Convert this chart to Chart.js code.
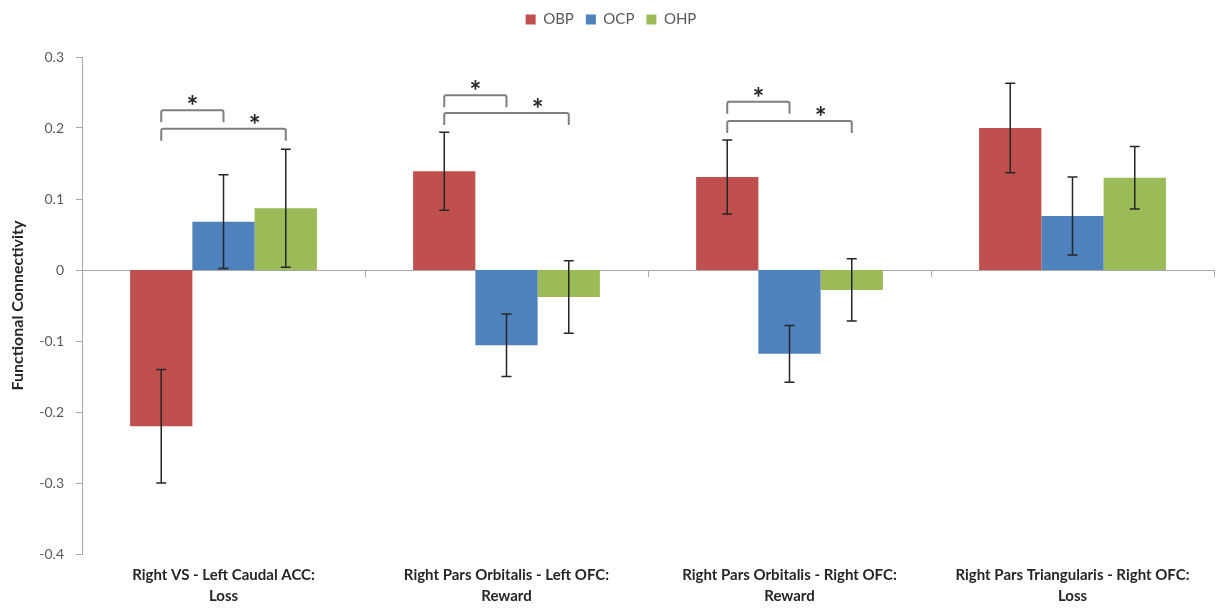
<!DOCTYPE html>
<html>
<head>
<meta charset="utf-8">
<script src="https://cdn.jsdelivr.net/npm/chart.js@4/dist/chart.umd.min.js"></script>
<style>
  html, body { margin: 0; padding: 0; background: #ffffff; }
  #wrap { width: 1223px; height: 616px; position: relative; }
</style>
</head>
<body>
<div id="wrap"><canvas id="c" width="1223" height="616"></canvas></div>
<script>
// ---- data ----
const categories = [
  ['Right VS - Left Caudal ACC:', 'Loss'],
  ['Right Pars Orbitalis - Left OFC:', 'Reward'],
  ['Right Pars Orbitalis - Right OFC:', 'Reward'],
  ['Right Pars Triangularis - Right OFC:', 'Loss']
];
const seriesNames = ['OBP', 'OCP', 'OHP'];
const obpValues = [-0.220, 0.139, 0.131, 0.200];
const ocpValues = [0.068, -0.106, -0.118, 0.076];
const ohpValues = [0.087, -0.038, -0.028, 0.130];
const obpErrors = [0.080, 0.055, 0.052, 0.063];
const ocpErrors = [0.066, 0.044, 0.040, 0.055];
const ohpErrors = [0.083, 0.051, 0.044, 0.044];
const yTickLabels = ['-0.4', '-0.3', '-0.2', '-0.1', '0', '0.1', '0.2', '0.3'];
// significance brackets
const bracketCategory = [0, 0, 1, 1, 2, 2];
const bracketFromSeries = [0, 0, 0, 0, 0, 0];
const bracketToSeries = [1, 2, 1, 2, 1, 2];
const bracketTopValue = [0.225, 0.199, 0.246, 0.221, 0.237, 0.210];
const starBetweenA = [0, 1, 0, 1, 0, 1];
const starBetweenB = [1, 2, 1, 2, 1, 2];
const bracketLabels = ['*', '*', '*', '*', '*', '*'];

const colors = ['#C0504D', '#4F81BD', '#9BBB59'];
const FONT = 'Lato, "Open Sans", sans-serif';
const errorSets = [obpErrors, ocpErrors, ohpErrors];

const errorBarPlugin = {
  id: 'errorBars',
  afterDatasetsDraw(chart) {
    const ctx = chart.ctx;
    const ys = chart.scales.y;
    ctx.save();
    ctx.strokeStyle = '#262626';
    ctx.lineWidth = 1.5;
    chart.data.datasets.forEach((ds, i) => {
      const meta = chart.getDatasetMeta(i);
      meta.data.forEach((bar, j) => {
        const v = ds.data[j];
        const e = errorSets[i][j];
        const x = bar.x;
        const yTop = ys.getPixelForValue(v + e);
        const yBot = ys.getPixelForValue(v - e);
        ctx.beginPath();
        ctx.moveTo(x, yTop); ctx.lineTo(x, yBot);
        ctx.moveTo(x - 5, yTop); ctx.lineTo(x + 5, yTop);
        ctx.moveTo(x - 5, yBot); ctx.lineTo(x + 5, yBot);
        ctx.stroke();
      });
    });
    ctx.restore();
  }
};

const bracketPlugin = {
  id: 'brackets',
  afterDatasetsDraw(chart) {
    const ctx = chart.ctx;
    const ys = chart.scales.y;
    ctx.save();
    ctx.strokeStyle = '#7F7F7F';
    ctx.lineWidth = 2;
    ctx.lineJoin = 'round';
    bracketCategory.forEach((cat, k) => {
      const x1 = chart.getDatasetMeta(bracketFromSeries[k]).data[cat].x;
      const x2 = chart.getDatasetMeta(bracketToSeries[k]).data[cat].x;
      const yT = ys.getPixelForValue(bracketTopValue[k]);
      const yL = yT + 12;
      ctx.beginPath();
      ctx.moveTo(x1, yL); ctx.lineTo(x1, yT + 2);
      ctx.quadraticCurveTo(x1, yT, x1 + 2, yT);
      ctx.lineTo(x2 - 2, yT);
      ctx.quadraticCurveTo(x2, yT, x2, yT + 2);
      ctx.lineTo(x2, yL);
      ctx.stroke();
      const sa = chart.getDatasetMeta(starBetweenA[k]).data[cat].x;
      const sb = chart.getDatasetMeta(starBetweenB[k]).data[cat].x;
      ctx.fillStyle = '#262626';
      ctx.font = 'bold 28px ' + FONT;
      ctx.textAlign = 'center';
      ctx.textBaseline = 'alphabetic';
      ctx.fillText(bracketLabels[k], (sa + sb) / 2, yT + 6);
    });
    ctx.restore();
  }
};

const legendSpace = {
  id: 'legendSpace',
  beforeInit(chart) {
    const orig = chart.legend.fit;
    chart.legend.fit = function () {
      orig.bind(chart.legend)();
      this.height += 20;
    };
  }
};

new Chart(document.getElementById('c'), {
  type: 'bar',
  data: {
    labels: categories,
    datasets: [
      { label: seriesNames[0], data: obpValues, backgroundColor: colors[0] },
      { label: seriesNames[1], data: ocpValues, backgroundColor: colors[1] },
      { label: seriesNames[2], data: ohpValues, backgroundColor: colors[2] }
    ]
  },
  options: {
    responsive: false,
    animation: false,
    devicePixelRatio: 1,
    layout: { padding: { left: 8, right: 9, top: 0, bottom: 8 } },
    datasets: { bar: { categoryPercentage: 0.66, barPercentage: 1.0, borderWidth: 0 } },
    plugins: {
      legend: {
        position: 'top',
        labels: {
          boxWidth: 10, boxHeight: 10, padding: 12,
          color: '#595959',
          font: { size: 15, family: FONT }
        }
      },
      tooltip: { enabled: false }
    },
    scales: {
      x: {
        grid: { display: false, drawTicks: false },
        border: { display: false },
        ticks: {
          color: '#262626',
          font: { size: 15, weight: 'bold', family: FONT, lineHeight: 1.4 },
          padding: 11, maxRotation: 0, autoSkip: false
        },
        afterFit(s) { s.height = 54; }
      },
      x2: {
        type: 'category',
        position: { y: 0 },
        offset: true,
        grid: { offset: true, drawOnChartArea: false, drawTicks: true, tickLength: 6, color: '#A6A6A6' },
        border: { display: true, color: '#A6A6A6', width: 1 },
        ticks: { display: false }
      },
      y: {
        min: -0.4, max: 0.3,
        ticks: {
          stepSize: 0.1,
          color: '#595959',
          font: { size: 14, family: FONT },
          padding: 12,
          callback: (v, i) => yTickLabels[i]
        },
        grid: { drawOnChartArea: false, drawTicks: true, tickLength: 6, color: '#A6A6A6' },
        border: { display: true, color: '#A6A6A6', width: 1 },
        title: {
          display: true, text: 'Functional Connectivity', color: '#262626',
          font: { size: 16, weight: 'bold', family: FONT },
          padding: { top: 0, bottom: 0 }
        },
        afterFit(s) { s.width = 74; }
      }
    }
  },
  plugins: [legendSpace, errorBarPlugin, bracketPlugin]
});
</script>
</body>
</html>
